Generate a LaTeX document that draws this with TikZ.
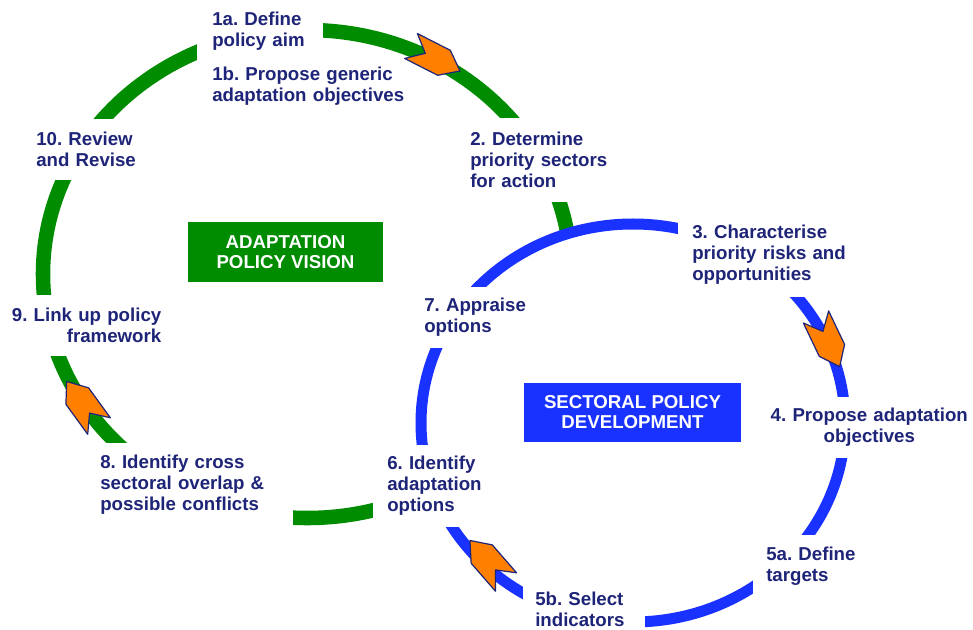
\documentclass[tikz,border=0pt]{standalone}
\usepackage{fontspec}
\setmainfont{Liberation Sans}
\usetikzlibrary{shapes}
\frenchspacing
\definecolor{cy_green}{RGB}{0,140,0}
\definecolor{cy_blue}{RGB}{26,50,255}
\definecolor{cy_navy}{RGB}{30,36,120}
\definecolor{cy_orange}{RGB}{255,128,0}
\tikzstyle{lbl}=[anchor=north west,fill=white,text=cy_navy,align=left,
  font=\bfseries\fontsize{14}{15.8}\selectfont]
\tikzstyle{gbox}=[fill=cy_green,text=white,align=center,inner sep=0pt,
  minimum width=146pt,minimum height=45pt,font=\bfseries\fontsize{14}{15}\selectfont]
\tikzstyle{bbox}=[fill=cy_blue,text=white,align=center,inner sep=0pt,
  minimum width=163pt,minimum height=44pt,font=\bfseries\fontsize{14}{15}\selectfont]
\tikzstyle{chv}=[fill=cy_orange,draw=cy_navy,line width=0.9pt,line join=round]
\tikzset{chev/.pic={\path[style=chv] (0,14) -- (16,0) -- (0,-14) -- (37,-14) -- (55,0) -- (37,14) -- cycle;}}

\begin{document}
\begin{tikzpicture}[x=0.75pt,y=-0.75pt]
    \path[use as bounding box,fill=white] (0,0) rectangle (973,630);
    % the two cycles
    \draw [cy_green,line width=10.9pt] (307,274) ellipse [x radius=198pt,y radius=183pt];
    \draw [cy_blue,fill=white,line width=8.25pt] (633,423) ellipse [x radius=159pt,y radius=149.25pt];
    \node [style=gbox] (vision) at (285.5,252) {ADAPTATION\\POLICY VISION};
    \node [style=bbox] (sectoral) at (632.5,412.5) {SECTORAL POLICY\\DEVELOPMENT};
    % steps
    \node [style=lbl,inner xsep=11.25pt,inner ysep=9pt,text width=72pt] (aim) at (197,0) {1a. Define\\policy aim};
    \node [style=lbl,inner sep=1.5pt,text width=150pt] (generic) at (210,65) {1b. Propose generic\\adaptation objectives};
    \node [style=lbl,inner xsep=7.5pt,inner ysep=10.5pt,text width=108.75pt] (sectors) at (460,118) {2. Determine\\priority sectors\\for action};
    \node [style=lbl,inner xsep=10.5pt,inner ysep=10pt,text width=120pt] (risks) at (678,211) {3. Characterise\\priority risks and\\opportunities};
    \node [style=lbl,align=center,inner xsep=2.25pt,inner ysep=8.25pt,text width=154.5pt] (objectives) at (763,397) {4. Propose adaptation\\objectives};
    \node [style=lbl,inner xsep=9.75pt,inner ysep=9pt,text width=71.25pt] (targets) at (753,535) {5a. Define\\targets};
    \node [style=lbl,inner xsep=9pt,inner ysep=11.25pt,text width=73.5pt] (indicators) at (523,577) {5b. Select\\indicators};
    \node [style=lbl,inner xsep=10.5pt,inner ysep=8.25pt,text width=75pt] (options) at (373,445) {6. Identify\\adaptation\\options};
    \node [style=lbl,inner xsep=9pt,inner ysep=8.25pt,text width=78.75pt] (appraise) at (412,287) {7. Appraise\\options};
    \node [style=lbl,inner xsep=7.5pt,inner ysep=9pt,text width=137.25pt] (overlap) at (90,443) {8. Identify cross\\sectoral overlap \&\\possible conflicts};
    \node [style=lbl,align=right,inner xsep=4.5pt,inner ysep=9.75pt,text width=116.25pt] (framework) at (0,295) {9. Link up policy\\framework};
    \node [style=lbl,inner xsep=7.5pt,inner ysep=10.1pt,text width=82.5pt] (review) at (26,118.5) {10. Review\\and Revise};
    % direction arrows
    \pic [rotate=-27] at (411,46) {chev};
    \pic [rotate=-64.5] at (816,317) {chev};
    \pic [rotate=131] at (506,582) {chev};
    \pic [rotate=126] at (99,426) {chev};
\end{tikzpicture}
\end{document}
